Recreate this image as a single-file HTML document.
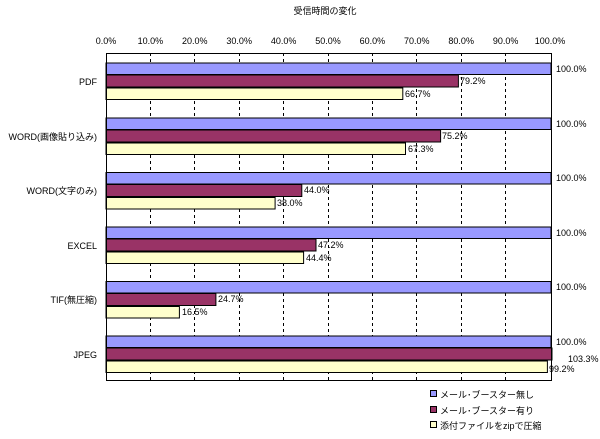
<!DOCTYPE html><html><head><meta charset="utf-8"><style>
body{margin:0;background:#fff}
svg text{font-family:"Liberation Sans","Noto Sans CJK JP",sans-serif;font-size:9px;fill:#000}
</style></head><body>
<svg width="600" height="434" xmlns="http://www.w3.org/2000/svg">
<text x="325" y="14" text-anchor="middle" font-size="10.5">受信時間の変化</text>
<g text-anchor="middle">
<text x="106" y="44">0.0%</text><text x="150.4" y="44">10.0%</text><text x="194.8" y="44">20.0%</text><text x="239.2" y="44">30.0%</text><text x="283.6" y="44">40.0%</text><text x="328" y="44">50.0%</text><text x="372.4" y="44">60.0%</text><text x="416.8" y="44">70.0%</text><text x="461.2" y="44">80.0%</text><text x="505.6" y="44">90.0%</text><text x="550" y="44">100.0%</text>
</g>
<g stroke="#000" stroke-dasharray="3,3" stroke-width="1">
<line x1="150.5" y1="53" x2="150.5" y2="380"/><line x1="194.5" y1="53" x2="194.5" y2="380"/><line x1="239.5" y1="53" x2="239.5" y2="380"/><line x1="283.5" y1="53" x2="283.5" y2="380"/><line x1="328.5" y1="53" x2="328.5" y2="380"/><line x1="372.5" y1="53" x2="372.5" y2="380"/><line x1="416.5" y1="53" x2="416.5" y2="380"/><line x1="461.5" y1="53" x2="461.5" y2="380"/><line x1="505.5" y1="53" x2="505.5" y2="380"/>
</g>
<g stroke="#000" stroke-width="1">
<rect x="106" y="63" width="445" height="11.5" fill="#9999ff"/><rect x="106" y="75" width="352.4" height="12" fill="#993366"/><rect x="106" y="88" width="296.8" height="11.5" fill="#ffffcc"/>
<rect x="106" y="118" width="445" height="11.5" fill="#9999ff"/><rect x="106" y="130" width="334.6" height="12" fill="#993366"/><rect x="106" y="143" width="299.5" height="11.5" fill="#ffffcc"/>
<rect x="106" y="172.5" width="445" height="11.5" fill="#9999ff"/><rect x="106" y="184.5" width="195.8" height="12" fill="#993366"/><rect x="106" y="197.5" width="169.1" height="11.5" fill="#ffffcc"/>
<rect x="106" y="227" width="445" height="11.5" fill="#9999ff"/><rect x="106" y="239" width="210" height="12" fill="#993366"/><rect x="106" y="252" width="197.6" height="11.5" fill="#ffffcc"/>
<rect x="106" y="281.5" width="445" height="11.5" fill="#9999ff"/><rect x="106" y="293.5" width="109.9" height="12" fill="#993366"/><rect x="106" y="306.5" width="73.4" height="11.5" fill="#ffffcc"/>
<rect x="106" y="336" width="445" height="11.5" fill="#9999ff"/><rect x="106" y="348" width="446" height="12" fill="#993366"/><rect x="106" y="361" width="441.4" height="11.5" fill="#ffffcc"/>
</g>
<rect x="106.5" y="53.5" width="445" height="327" fill="none" stroke="#000"/>
<g text-anchor="end">
<text x="97" y="85">PDF</text><text x="97" y="140">WORD(画像貼り込み)</text><text x="97" y="194">WORD(文字のみ)</text><text x="97" y="249">EXCEL</text><text x="97" y="303">TIF(無圧縮)</text><text x="97" y="358">JPEG</text>
</g>
<text x="556" y="72">100.0%</text><text x="460" y="84">79.2%</text><text x="405" y="97">66.7%</text>
<text x="556" y="127">100.0%</text><text x="442" y="139">75.2%</text><text x="408" y="152">67.3%</text>
<text x="556" y="181">100.0%</text><text x="304" y="193">44.0%</text><text x="277" y="206">38.0%</text>
<text x="556" y="236">100.0%</text><text x="318" y="248">47.2%</text><text x="306" y="261">44.4%</text>
<text x="556" y="290">100.0%</text><text x="218" y="302">24.7%</text><text x="182" y="315">16.5%</text>
<text x="556" y="345">100.0%</text><text x="568" y="362">103.3%</text><text x="549" y="372">99.2%</text>
<g stroke="#000"><rect x="430.5" y="390.5" width="6" height="6" fill="#9999ff"/><rect x="430.5" y="406.5" width="6" height="6" fill="#993366"/><rect x="430.5" y="421.5" width="6" height="6" fill="#ffffcc"/></g>
<text x="440" y="398">メール･ブースター無し</text><text x="440" y="414">メール･ブースター有り</text><text x="440" y="429">添付ファイルをzipで圧縮</text>
</svg></body></html>
